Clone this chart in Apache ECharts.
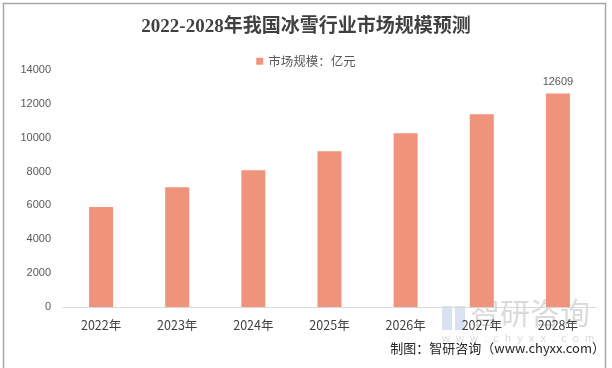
<!DOCTYPE html>
<html><head><meta charset="utf-8">
<script src="https://cdn.jsdelivr.net/npm/echarts@6/dist/echarts.min.js"></script>
<style>html,body{margin:0;padding:0;background:#fff}#c{width:612px;height:368px}</style>
</head><body><div id="c"></div>
<script>
var categories = ['2022年','2023年','2024年','2025年','2026年','2027年','2028年'];
var seriesName = '市场规模：亿元';
var values = [5900, 7080, 8080, 9200, 10260, 11380, 12609];
var labeledIndex = [6];
var titleText = '2022-2028年我国冰雪行业市场规模预测';
var sourceText = '制图：智研咨询（www.chyxx.com）';

var chart = echarts.init(document.getElementById('c'));
chart.setOption({
  animation: false,
  backgroundColor: '#fff',
  title: {
    text: titleText, left: 'center', top: 13,
    textStyle: {fontFamily: '"Liberation Serif","Noto Sans CJK SC",serif', fontSize: 19, fontWeight: 'bold', color: '#404040'}
  },
  legend: {
    top: 50, left: 'center', itemWidth: 7, itemHeight: 7, icon: 'rect', itemGap: 5,
    textStyle: {fontFamily: '"Noto Sans CJK SC"', fontSize: 12.5, color: '#595959'},
    data: [seriesName]
  },
  grid: {left: 63, right: 16, top: 70, bottom: 61, containLabel: false},
  xAxis: {
    type: 'category', data: categories,
    axisLine: {lineStyle: {color: '#d9d9d9'}},
    axisTick: {show: false},
    axisLabel: {fontFamily: '"Noto Sans CJK SC"', fontSize: 12.5, color: '#404040', margin: 12}
  },
  yAxis: {
    type: 'value', min: 0, max: 14000, interval: 2000,
    axisLine: {show: false}, axisTick: {show: false}, splitLine: {show: false},
    axisLabel: {fontFamily: '"Liberation Sans","Noto Sans",sans-serif', fontSize: 11, color: '#595959', margin: 12,
      formatter: function(v){ return String(v); }}
  },
  series: [{
    name: seriesName, type: 'bar', barWidth: 24,
    itemStyle: {color: '#ef937a'},
    data: values.map(function(v, i){
      return labeledIndex.indexOf(i) >= 0 ? {value: v, label: {show: true, position: 'top', distance: 6, color: '#595959', fontSize: 11, fontFamily: '"Liberation Sans",sans-serif'}} : v;
    })
  }],
  graphic: [
    {type: 'rect', shape: {x: 3.5, y: 3.5, width: 602, height: 380}, style: {fill: 'none', stroke: '#a6a6a6', lineWidth: 1.5}, silent: true},
    {type: 'rect', shape: {x: 442, y: 306, width: 10, height: 24}, style: {fill: 'rgba(160,185,215,0.4)'}, silent: true},
    {type: 'rect', shape: {x: 455, y: 306, width: 10, height: 24}, style: {fill: 'rgba(160,185,215,0.4)'}, silent: true},
    {type: 'text', left: 470, top: 298, style: {text: '智研咨询', fontSize: 30, fontFamily: '"Noto Sans CJK SC"', fill: 'rgba(150,150,150,0.35)'}},
    {type: 'text', left: 442, top: 333, style: {text: 'w  w  w  .  c  h  y  x  x  .  c  o  m', fontSize: 11, fontFamily: '"Liberation Sans"', fill: 'rgba(150,150,150,0.35)'}},
    {type: 'text', right: 7, top: 342, style: {text: sourceText, fontSize: 13, fontFamily: '"Noto Sans CJK SC"', fill: '#262626'}}
  ]
});
</script></body></html>
